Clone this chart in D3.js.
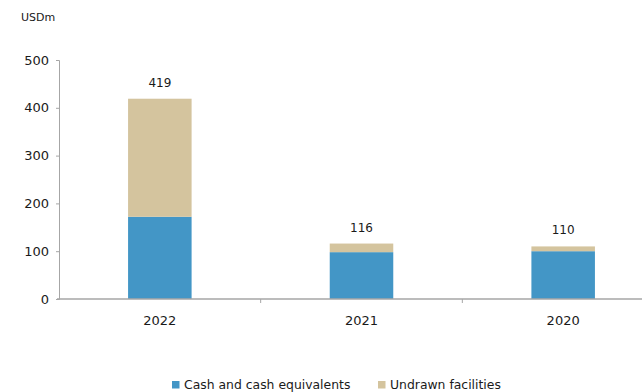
<!DOCTYPE html>
<html>
<head>
<meta charset="utf-8">
<script src="https://cdn.jsdelivr.net/npm/d3@7"></script>
<style>
body { margin: 0; background: #fff; }
text { font-family: "DejaVu Sans", sans-serif; fill: #1a1a1a; }
</style>
</head>
<body>
<script>
var years = ["2022", "2021", "2020"];
var cash = [172, 98, 100];
var undrawn = [247, 18, 10];
var totals = [419, 116, 110];
var yTicks = [0, 100, 200, 300, 400, 500];
var seriesNames = ["Cash and cash equivalents", "Undrawn facilities"];
var colors = ["#4396c6", "#d4c49e"];

var width = 642, height = 392;

var svg = d3.select("body")
	.append("svg")
	.attr("width", width)
	.attr("height", height);

var x = d3.scaleBand().domain(years).range([59, 664]);
var y = d3.scaleLinear().domain([0, 500]).range([299, 60]);
var barW = x.bandwidth() * 0.315;

// stacked data
var rows = years.map(function (yr, i) {
	return { year: yr, cash: cash[i], undrawn: undrawn[i] };
});
var stack = d3.stack().keys(["cash", "undrawn"])(rows);

svg.append("g").selectAll("g")
	.data(stack)
	.enter().append("g")
	.attr("fill", function (d, i) { return colors[i]; })
	.selectAll("rect")
	.data(function (d) { return d; })
	.enter().append("rect")
	.attr("x", function (d) { return x(d.data.year) + (x.bandwidth() - barW) / 2; })
	.attr("y", function (d) { return y(d[1]); })
	.attr("width", barW)
	.attr("height", function (d) { return y(d[0]) - y(d[1]); });

// y axis
var yAxis = svg.append("g")
	.attr("transform", "translate(59,0)")
	.call(d3.axisLeft(y).tickValues(yTicks).tickSize(3).tickPadding(7));
yAxis.select(".domain").attr("stroke", "#a6a6a6");
yAxis.selectAll(".tick line").attr("stroke", "#a6a6a6");
yAxis.selectAll(".tick text")
	.style("font-size", "13px")
	.style("font-family", "'DejaVu Sans', sans-serif")
	.attr("fill", "#1a1a1a");

// x axis
var xAxis = svg.append("g")
	.attr("transform", "translate(0,299)");
xAxis.append("line")
	.attr("x1", 57).attr("x2", width)
	.attr("y1", 0).attr("y2", 0)
	.attr("stroke", "#a6a6a6").attr("stroke-width", 1.5);
xAxis.selectAll(".sep")
	.data(years.slice(1))
	.enter().append("line")
	.attr("x1", function (d) { return x(d); })
	.attr("x2", function (d) { return x(d); })
	.attr("y1", 0).attr("y2", 4)
	.attr("stroke", "#a6a6a6");
xAxis.selectAll(".lbl")
	.data(years)
	.enter().append("text")
	.attr("x", function (d) { return x(d) + x.bandwidth() / 2; })
	.attr("y", 26)
	.attr("text-anchor", "middle")
	.style("font-size", "13px")
	.text(function (d) { return d; });

// totals
svg.selectAll(".total")
	.data(years)
	.enter().append("text")
	.attr("x", function (d) { return x(d) + x.bandwidth() / 2; })
	.attr("y", function (d, i) { return y(totals[i]) - 12; })
	.attr("text-anchor", "middle")
	.style("font-size", "12px")
	.text(function (d, i) { return totals[i]; });

// unit label
svg.append("text")
	.attr("x", 21).attr("y", 21)
	.style("font-size", "11px")
	.text("USDm");

// legend
var legX = [172, 378];
var leg = svg.selectAll(".leg")
	.data(seriesNames)
	.enter().append("g")
	.attr("transform", function (d, i) { return "translate(" + legX[i] + ",381)"; });
leg.append("rect")
	.attr("width", 7.5).attr("height", 7.5)
	.attr("fill", function (d, i) { return colors[i]; });
leg.append("text")
	.attr("x", 12).attr("y", 8)
	.style("font-size", "12.4px")
	.text(function (d) { return d; });
</script>
</body>
</html>
